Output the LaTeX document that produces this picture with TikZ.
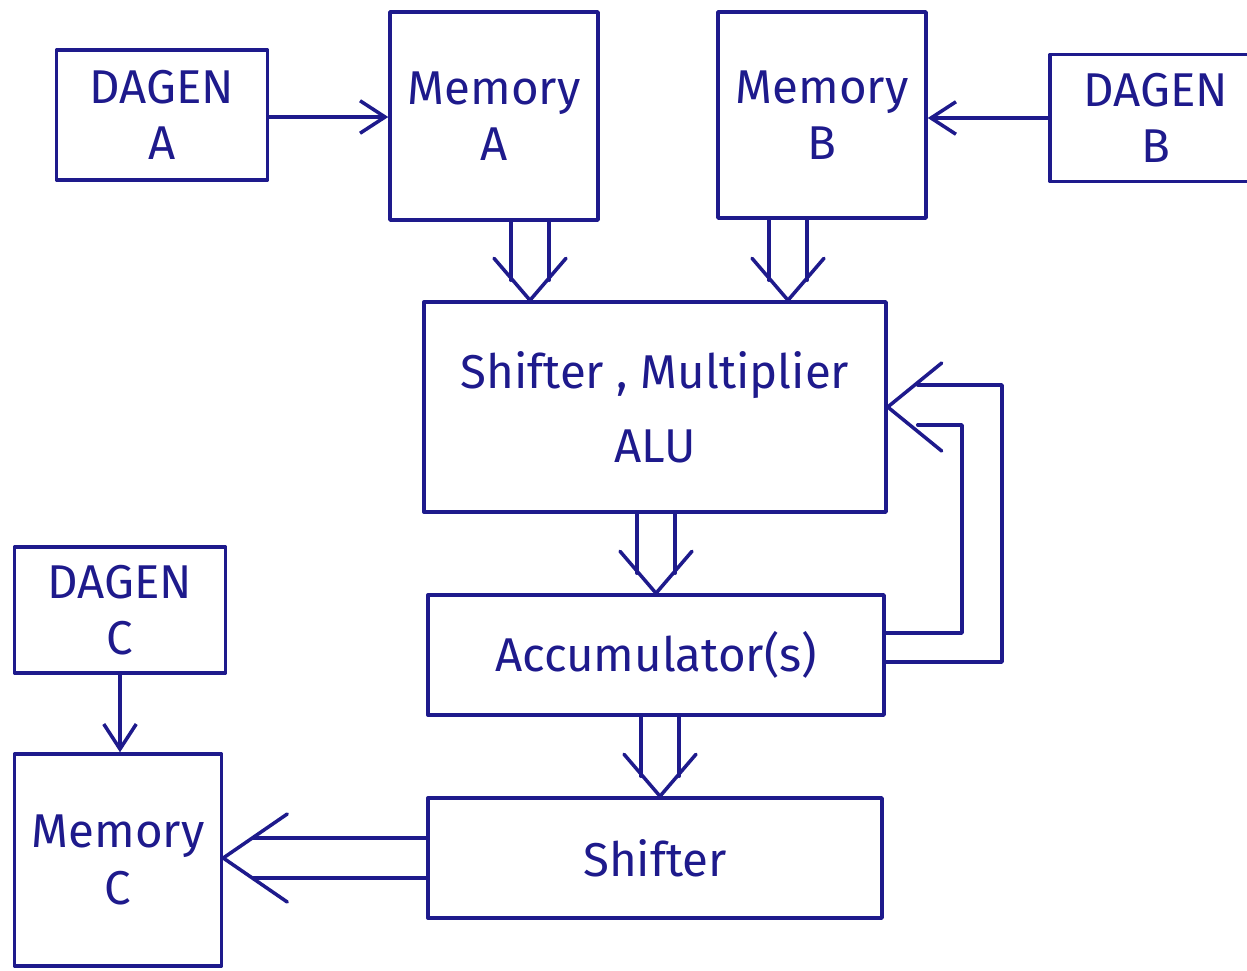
\documentclass[tikz,border=0pt]{standalone}
\usepackage{fontspec}
\setmainfont{Fira Sans}
\usetikzlibrary{calc,arrows.meta,positioning}
\definecolor{penx}{HTML}{1E1A8C}
\tikzset{
  pen/.style={line width=2pt,penx,line cap=round,line join=round},
  box/.style={pen,draw,align=center,inner sep=2pt,font=\fontsize{27}{32}\selectfont},
  ar/.style={pen,-{Straight Barb[length=5mm,width=6.5mm]}}
}
% two parallel lines with an open V head, pointing down
\newcommand\pipedown[3]{%
  \coordinate (tip) at (#1,0 |- #3.north);
  \draw[pen] ($(#2.south -| tip)+(-19,0)$) -- ($(tip)+(-19,-20)$);
  \draw[pen] ($(#2.south -| tip)+(19,0)$) -- ($(tip)+(19,-20)$);
  \draw[pen] ($(tip)+(-36,-42)$) -- (tip) -- ($(tip)+(36,-42)$);
}

\begin{document}
\begin{tikzpicture}[x=0.02cm,y=-0.02cm]
\useasboundingbox (0,0) rectangle (1247,970);
\clip (0,0) rectangle (1247,970);
% top row
\node[box,minimum width=4.22cm,minimum height=2.6cm] (daga) at (162,115) {DAGEN\\A};
\node[box,minimum width=4.16cm,minimum height=4.16cm] (mema) at (494,116) {Memory\\A};
\node[box,minimum width=4.16cm,minimum height=4.12cm] (memb) at (822,115) {Memory\\B};
\node[box,minimum width=4.24cm,minimum height=2.54cm] (dagb) at (1156,118) {DAGEN\\B};
% middle column
\node[box,minimum width=9.24cm,minimum height=4.2cm] (alu) at (655,407) {Shifter , Multiplier\\[0.35cm]ALU};
\node[box,minimum width=9.12cm,minimum height=2.4cm] (acc) at (656,655) {Accumulator(s)};
\node[box,minimum width=9.08cm,minimum height=2.4cm] (shf) at (655,858) {Shifter};
% left bottom
\node[box,minimum width=4.22cm,minimum height=2.52cm] (dagc) at (120,610) {DAGEN\\C};
\node[box,minimum width=4.14cm,minimum height=4.24cm] (memc) at (118,860) {Memory\\C};

% single arrows
\draw[ar] (daga.east |- 0,117) -- (mema.west |- 0,117);
\draw[ar] (dagb.west |- 0,118) -- (memb.east |- 0,118);
\draw[ar] (dagc.south) -- (memc.north -| dagc.south);

% wide arrows
\pipedown{530}{mema}{alu}
\pipedown{788}{memb}{alu}
\pipedown{656}{alu}{acc}
\pipedown{660}{acc}{shf}

% shifter to memory C
\coordinate (tc) at (memc.east |- shf.west);
\draw[pen] ($(shf.west)+(0,-20)$) -- ($(tc)+(30,-20)$);
\draw[pen] ($(shf.west)+(0,20)$) -- ($(tc)+(30,20)$);
\draw[pen] ($(tc)+(64,-44)$) -- (tc) -- ($(tc)+(64,44)$);

% feedback into the ALU
\coordinate (tf) at (alu.east);
\draw[pen] ($(acc.east)+(0,-22)$) -| (962,425) -- ($(tf)+(30,18)$);
\draw[pen] ($(acc.east)+(0,7)$) -| (1002,385) -- ($(tf)+(30,-22)$);
\draw[pen] ($(tf)+(54,-44)$) -- (tf) -- ($(tf)+(54,44)$);
\end{tikzpicture}
\end{document}
